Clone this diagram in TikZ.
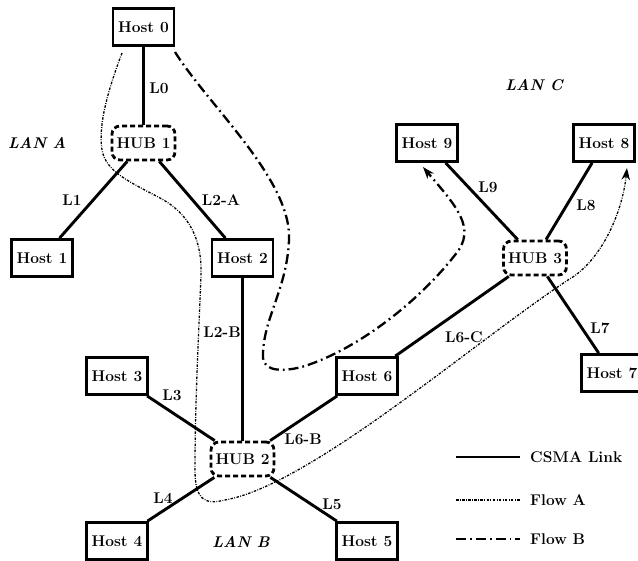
\documentclass[tikz,border=0pt]{standalone}
\usetikzlibrary{arrows.meta}
\begin{document}
\begin{tikzpicture}[x=1pt,y=-1pt,
  every node/.style={font=\fontsize{15.5}{18}\selectfont\bfseries},
  host/.style={draw, line width=2.8pt, minimum width=61pt, minimum height=37pt, inner sep=0pt},
  hub/.style={draw, line width=2.8pt, dash pattern=on 5pt off 3pt, rounded corners=8pt,
              minimum width=63pt, minimum height=34pt, inner sep=0pt},
  link/.style={line width=2.9pt},
  lbl/.style={inner sep=0pt},
  lan/.style={inner sep=0pt, font=\fontsize{15.5}{18}\selectfont\bfseries\itshape},
  flowA/.style={line width=1.3pt, dash pattern=on 2.5pt off 1.4pt on 0.8pt off 1.4pt},
  flowB/.style={line width=2.3pt, dash pattern=on 10pt off 4pt on 1.8pt off 4pt},
  tip/.style={-{Stealth[length=12pt,width=8.5pt]}},
  legendtext/.style={anchor=west, inner sep=0pt}
]
\useasboundingbox (0,0) rectangle (638,561);
\clip (0,0) rectangle (638,561);

% hosts and hubs
\node[host] (h0) at (143.5,27) {Host 0};
\node[hub]  (hub1) at (143.5,143) {HUB 1};
\node[host] (h1) at (42,258) {Host 1};
\node[host] (h2) at (242.5,258) {Host 2};
\node[hub]  (hub2) at (242.5,459) {HUB 2};
\node[host] (h3) at (117,376) {Host 3};
\node[host] (h4) at (117,541) {Host 4};
\node[host] (h5) at (367,541) {Host 5};
\node[host] (h6) at (367,376) {Host 6};
\node[hub]  (hub3) at (535,258) {HUB 3};
\node[host] (h7) at (612,373) {Host 7};
\node[host] (h8) at (604,143) {Host 8};
\node[host] (h9) at (427,143) {Host 9};

% CSMA links
\draw[link] (h0) -- (hub1);
\draw[link] (hub1) -- (h1);
\draw[link] (hub1) -- (h2);
\draw[link] (h2) -- (hub2);
\draw[link] (hub2) -- (h3);
\draw[link] (hub2) -- (h4);
\draw[link] (hub2) -- (h5);
\draw[link] (hub2) -- (h6);
\draw[link] (h6) -- (hub3);
\draw[link] (hub3) -- (h7);
\draw[link] (hub3) -- (h8);
\draw[link] (hub3) -- (h9);

% link labels
\node[lbl] (l0) at (159,88) {L0};
\node[lbl] (l1) at (72,200) {L1};
\node[lbl] (l2a) at (221,200) {L2-A};
\node[lbl] (l2b) at (222,332) {L2-B};
\node[lbl] (l3) at (172,395) {L3};
\node[lbl] (l4) at (163,498) {L4};
\node[lbl] (l5) at (332,504) {L5};
\node[lbl] (l6b) at (303,439) {L6-B};
\node[lbl] (l6c) at (464,337) {L6-C};
\node[lbl] (l7) at (600,328) {L7};
\node[lbl] (l8) at (586,205) {L8};
\node[lbl] (l9) at (488,187) {L9};

% LAN names
\node[lan] (lana) at (37,143) {LAN A};
\node[lan] (lanb) at (241,542) {LAN B};
\node[lan] (lanc) at (534,85) {LAN C};

% flow A: Host 0 to Host 8
\coordinate (faS) at (122,53);
\coordinate (faE) at (627,168);
\draw[flowA, tip] (faS)
  .. controls (108,90) and (98,125) .. (102,150)
  .. controls (106,172) and (130,182) .. (160,198)
  .. controls (190,214) and (202,240) .. (201,275)
  .. controls (199,330) and (195,400) .. (195,470)
  .. controls (195,500) and (205,505) .. (225,500)
  .. controls (310,485) and (470,345) .. (568,280)
  .. controls (600,262) and (622,215) .. (faE);

% flow B: Host 0 to Host 9
\coordinate (fbS) at (175,52);
\coordinate (fbE) at (423,167);
\draw[flowB, tip] (fbS)
  .. controls (208,105) and (292,180) .. (289,240)
  .. controls (287,290) and (262,320) .. (263,358)
  .. controls (264,372) and (285,372) .. (305,366)
  .. controls (360,348) and (420,300) .. (455,255)
  .. controls (478,228) and (455,205) .. (fbE);

% legend
\coordinate (lg1a) at (456,457); \coordinate (lg1b) at (520,457);
\coordinate (lg2a) at (456,500); \coordinate (lg2b) at (520,500);
\coordinate (lg3a) at (456,539); \coordinate (lg3b) at (520,539);
\draw[link] (lg1a) -- (lg1b);
\draw[flowA] (lg2a) -- (lg2b);
\draw[flowB] (lg3a) -- (lg3b);
\node[legendtext] (lt1) at (530,457) {CSMA Link};
\node[legendtext] (lt2) at (530,500) {Flow A};
\node[legendtext] (lt3) at (530,539) {Flow B};
\end{tikzpicture}
\end{document}
